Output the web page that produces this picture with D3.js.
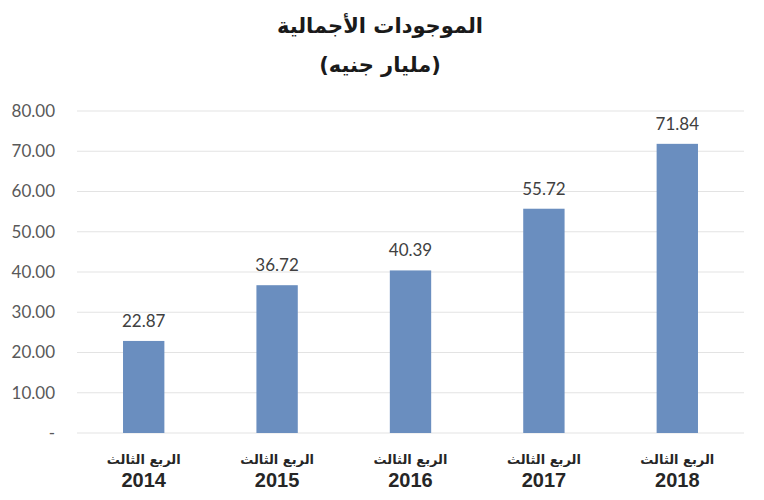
<!DOCTYPE html>
<html>
<head>
<meta charset="utf-8">
<script src="https://cdn.jsdelivr.net/npm/d3@7"></script>
<style>
  body { margin: 0; background: #fff; }
  svg { display: block; }
</style>
</head>
<body>
<div id="chart"></div>
<script>
// data
const years = ["2014", "2015", "2016", "2017", "2018"];
const quarterLabel = "الربع الثالث";
const totals = [22.87, 36.72, 40.39, 55.72, 71.84];
const yTicks = [0, 10, 20, 30, 40, 50, 60, 70, 80];
const titleLines = ["الموجودات الأجمالية", "(مليار جنيه)"];

const W = 764, H = 500;
const margin = {top: 111, right: 20, bottom: 67, left: 77};
const width = W - margin.left - margin.right;
const height = H - margin.top - margin.bottom;

const svg = d3.select("#chart")
    .append("svg")
    .attr("width", W)
    .attr("height", H);

const g = svg.append("g")
    .attr("transform", `translate(${margin.left},${margin.top})`);

const x = d3.scaleBand()
    .domain(years)
    .range([0, width])
    .paddingInner(0.69)
    .paddingOuter(0.345);

const y = d3.scaleLinear()
    .domain([0, 80])
    .range([height, 0]);

// grid lines
g.append("g")
    .selectAll("line")
    .data(yTicks)
    .join("line")
    .attr("x1", 0)
    .attr("x2", width)
    .attr("y1", d => y(d))
    .attr("y2", d => y(d))
    .attr("stroke", "#e3e3e3")
    .attr("stroke-width", 1);

// y axis labels
const yAxis = g.append("g")
    .call(d3.axisLeft(y).tickValues(yTicks).tickSize(0).tickPadding(22)
        .tickFormat(d => d === 0 ? "-" : d.toFixed(2)));
yAxis.select(".domain").remove();
yAxis.selectAll("text")
    .style("font-family", "Lato, 'Open Sans', sans-serif")
    .style("font-size", "17px")
    .attr("fill", "#595959");

// bars
const rows = years.map((yr, i) => ({year: yr, value: totals[i]}));

g.selectAll("rect.bar")
    .data(rows)
    .join("rect")
    .attr("class", "bar")
    .attr("x", d => x(d.year))
    .attr("width", x.bandwidth())
    .attr("y", d => y(d.value))
    .attr("height", d => height - y(d.value))
    .attr("fill", "#6a8ebf");

// value labels
g.selectAll("text.val")
    .data(rows)
    .join("text")
    .attr("class", "val")
    .attr("x", d => x(d.year) + x.bandwidth() / 2)
    .attr("y", d => y(d.value) - 14)
    .attr("text-anchor", "middle")
    .style("font-family", "Lato, 'Open Sans', sans-serif")
    .style("font-size", "17px")
    .attr("fill", "#404040")
    .text(d => d.value.toFixed(2));

// x labels (two lines)
const xl = g.selectAll("g.xl")
    .data(rows)
    .join("g")
    .attr("class", "xl")
    .attr("transform", d => `translate(${x(d.year) + x.bandwidth() / 2},${height})`);

xl.append("text")
    .attr("y", 31)
    .attr("text-anchor", "middle")
    .attr("direction", "rtl")
    .style("font-family", "'DejaVu Sans', sans-serif")
    .style("font-weight", "bold")
    .style("font-size", "13px")
    .attr("fill", "#262626")
    .text(quarterLabel);

xl.append("text")
    .attr("y", 54)
    .attr("text-anchor", "middle")
    .style("font-family", "'Liberation Sans', Arial, sans-serif")
    .style("font-weight", "bold")
    .style("font-size", "20px")
    .attr("fill", "#262626")
    .text(d => d.year);

// title
svg.selectAll("text.title")
    .data(titleLines)
    .join("text")
    .attr("class", "title")
    .attr("x", 380)
    .attr("y", (d, i) => 33 + i * 39)
    .attr("text-anchor", "middle")
    .attr("direction", "rtl")
    .style("font-family", "'DejaVu Sans', sans-serif")
    .style("font-weight", "bold")
    .style("font-size", "21px")
    .attr("fill", "#1a1a1a")
    .text(d => d);
</script>
</body>
</html>
